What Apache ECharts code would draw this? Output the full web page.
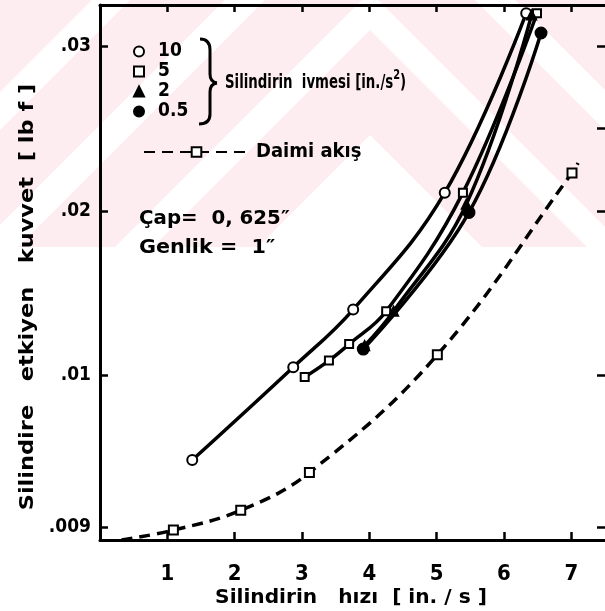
<!DOCTYPE html>
<html><head><meta charset="utf-8">
<script src="https://cdn.jsdelivr.net/npm/echarts@6/dist/echarts.min.js"></script>
<style>html,body{margin:0;padding:0;background:#fff}#c{width:605px;height:611px}</style>
</head><body><div id="c"></div>
<script>
// ---- data ----
const xTickValues = [1, 2, 3, 4, 5, 6, 7];
const xTickLabels = ['1', '2', '3', '4', '5', '6', '7'];
const yTickValues = [0.0008, 0.01, 0.02, 0.03];
const yTickLabels = ['.009', '.01', '.02', '.03'];
const rightTickValues = [0.0008, 0.01, 0.02, 0.025, 0.03];

const acc10X = [1.37, 2.87, 3.76, 5.12, 6.33];
const acc10Y = [0.00486, 0.0105, 0.0140, 0.0211, 0.0320];
const acc5X = [3.04, 3.40, 3.70, 4.25, 5.39, 6.49];
const acc5Y = [0.0099, 0.0109, 0.0119, 0.0139, 0.0211, 0.0320];
const acc2X = [3.93, 4.36, 5.44, 6.41];
const acc2Y = [0.0118, 0.0139, 0.0204, 0.0319];
const acc05X = [3.91, 5.48, 6.55];
const acc05Y = [0.0116, 0.0199, 0.0308];
const steadyX = [0.32, 1.09, 2.09, 3.11, 5.01, 7.01, 7.10];
const steadyY = [0.0000, 0.0006, 0.0018, 0.0041, 0.01125, 0.0223, 0.0229];

const seriesNames = ['10', '5', '2', '0.5'];
const steadyName = 'Daimi akış';

// ---- chart ----
const FONT = 'DejaVu Sans Condensed';
const zip = (xs, ys) => xs.map((x, i) => [x, ys[i]]);
const chart = echarts.init(document.getElementById('c'), null, {renderer: 'canvas'});

const lineBase = {
  type: 'line', smooth: 0.4,
  lineStyle: {color: '#000', width: 3.5},
  itemStyle: {color: '#000', borderColor: '#000', borderWidth: 2},
  emphasis: {disabled: true}, z: 5
};

// watermark (pale pink chevrons in the top band)
const wm = [];
wm.push({type: 'rect', shape: {x: 0, y: 0, width: 605, height: 247}, style: {fill: '#fdedf0'}, silent: true, z: -10});
const s = 1.0, cx = 370;
[[135, 500], [-8, 30], [-145, -105], [-278, -240], [-410, -372]].forEach(([a, b]) => {
  wm.push({type: 'polygon', silent: true, z: -9, shape: {points: [
    [0, a + s * cx], [cx, a], [605, a + s * (605 - cx)],
    [605, b + s * (605 - cx)], [cx, b], [0, b + s * cx]]}, style: {fill: '#ffffff'}});
});
wm.push({type: 'rect', shape: {x: 0, y: 247, width: 605, height: 364}, style: {fill: '#ffffff'}, silent: true, z: -8});

const txt = (x, y, text, size, sx, extra) => Object.assign({
  type: 'text', x, y, scaleX: sx, silent: true, z: 20,
  style: Object.assign({text, fill: '#000', font: `bold ${size}px "${FONT}"`, align: 'left', verticalAlign: 'middle'}, extra || {})
});
const braceStyle = {fill: 'none', stroke: '#000', lineWidth: 3};
const brace = [
  {type: 'bezierCurve', shape: {x1: 200, y1: 39, x2: 210, y2: 50, cpx1: 210, cpy1: 39}},
  {type: 'line', shape: {x1: 210, y1: 50, x2: 210, y2: 74}},
  {type: 'bezierCurve', shape: {x1: 210, y1: 74, x2: 217, y2: 83, cpx1: 210, cpy1: 82}},
  {type: 'bezierCurve', shape: {x1: 217, y1: 83, x2: 210, y2: 92, cpx1: 210, cpy1: 84}},
  {type: 'line', shape: {x1: 210, y1: 92, x2: 210, y2: 114}},
  {type: 'bezierCurve', shape: {x1: 210, y1: 114, x2: 199, y2: 124, cpx1: 210, cpy1: 124}}
].map(e => Object.assign(e, {silent: true, z: 20, style: braceStyle}));

const axisCommon = {axisLine: {show: true, onZero: false, lineStyle: {color: '#000', width: 3}}, splitLine: {show: false}};

const option = {
  backgroundColor: '#fff',
  animation: false,
  grid: {left: 100, right: 0, top: 5, bottom: 71, containLabel: false},
  xAxis: [Object.assign({}, axisCommon, {
    type: 'value', min: 0, max: 7.5, interval: 1, position: 'bottom',
    axisTick: {show: true, inside: true, length: 8, lineStyle: {color: '#000', width: 2.5}, customValues: xTickValues},
    axisLabel: {show: true, customValues: xTickValues, margin: 23, color: '#000',
      fontSize: 22, fontWeight: 'bold', fontFamily: FONT,
      formatter: v => xTickLabels[xTickValues.indexOf(v)] || ''}
  }), Object.assign({}, axisCommon, {
    type: 'value', min: 0, max: 7.5, interval: 1, position: 'top',
    axisTick: {show: true, inside: true, length: 7, lineStyle: {color: '#000', width: 2.5}, customValues: xTickValues},
    axisLabel: {show: false}
  })],
  yAxis: [Object.assign({}, axisCommon, {
    type: 'value', min: 0, max: 0.0325, position: 'left',
    axisTick: {show: true, inside: true, length: 8, lineStyle: {color: '#000', width: 2.5}, customValues: yTickValues},
    axisLabel: {show: true, customValues: yTickValues, margin: 9, color: '#000',
      fontSize: 19, fontWeight: 'bold', fontFamily: FONT,
      formatter: v => yTickLabels[yTickValues.indexOf(v)] || ''}
  }), {
    type: 'value', min: 0, max: 0.0325, position: 'right',
    axisLine: {show: false, onZero: false},
    axisTick: {show: true, inside: true, length: 8, lineStyle: {color: '#000', width: 2.5}, customValues: rightTickValues},
    axisLabel: {show: false}, splitLine: {show: false}
  }],
  legend: [{
    orient: 'vertical', left: 128, top: 37, itemWidth: 10, itemHeight: 10, itemGap: 1,
    selectedMode: false,
    textStyle: {fontSize: 19, fontWeight: 'bold', fontFamily: FONT, color: '#000', lineHeight: 19, padding: [0, 0, 0, 9]},
    data: [
      {name: seriesNames[0], icon: 'emptyCircle'},
      {name: seriesNames[1], icon: 'emptyRect'},
      {name: seriesNames[2], icon: 'triangle'},
      {name: seriesNames[3], icon: 'circle'}
    ]
  }, {
    orient: 'horizontal', left: 138, top: 137, itemWidth: 105, itemHeight: 12,
    selectedMode: false,
    textStyle: {fontSize: 20, fontWeight: 'bold', fontFamily: FONT, color: '#000', padding: [0, 0, 0, 2]},
    data: [{name: steadyName}]
  }],
  graphic: wm.concat(brace, [
    {type: 'text', x: 225, y: 83, scaleX: 0.78, silent: true, z: 20,
      style: {text: '{a|Silindirin  ivmesi [in./s}{b|2}{a|)}', verticalAlign: 'middle', align: 'left',
        rich: {a: {font: `bold 19px "${FONT}"`, fill: '#000'},
               b: {font: `bold 14px "${FONT}"`, fill: '#000', verticalAlign: 'bottom', padding: [0, 0, 16, 0]}}}},
    txt(139, 219, 'Çap=  0, 625″', 20, 1.1),
    txt(139, 248, 'Genlik =  1″', 20, 1.15),
    txt(351, 598, 'Silindirin   hızı  [ in. / s ]', 20, 1.12, {align: 'center'}),
    {type: 'text', x: 28, y: 297, rotation: Math.PI / 2, scaleX: 1.25, silent: true, z: 20,
      style: {text: 'Silindire   etkiyen   kuvvet  [ lb f ]', fill: '#000', font: `bold 20px "${FONT}"`, align: 'center', verticalAlign: 'middle'}}
  ]),
  series: [
    Object.assign({}, lineBase, {name: seriesNames[0], data: zip(acc10X, acc10Y), symbol: 'emptyCircle', symbolSize: 10}),
    Object.assign({}, lineBase, {name: seriesNames[1], data: zip(acc5X, acc5Y), symbol: 'emptyRect', symbolSize: 8}),
    Object.assign({}, lineBase, {name: seriesNames[2], data: zip(acc2X, acc2Y), symbol: 'triangle', symbolSize: 9}),
    Object.assign({}, lineBase, {name: seriesNames[3], data: zip(acc05X, acc05Y), symbol: 'circle', symbolSize: 11}),
    Object.assign({}, lineBase, {name: steadyName, symbol: 'emptyRect', symbolSize: 9,
      lineStyle: {color: '#000', width: 3.5, type: [11, 7]},
      data: zip(steadyX, steadyY).map((p, i, arr) => (i === 0 || i === arr.length - 1) ? {value: p, symbol: 'none'} : {value: p})})
  ]
};
chart.setOption(option);
</script>
</body></html>
